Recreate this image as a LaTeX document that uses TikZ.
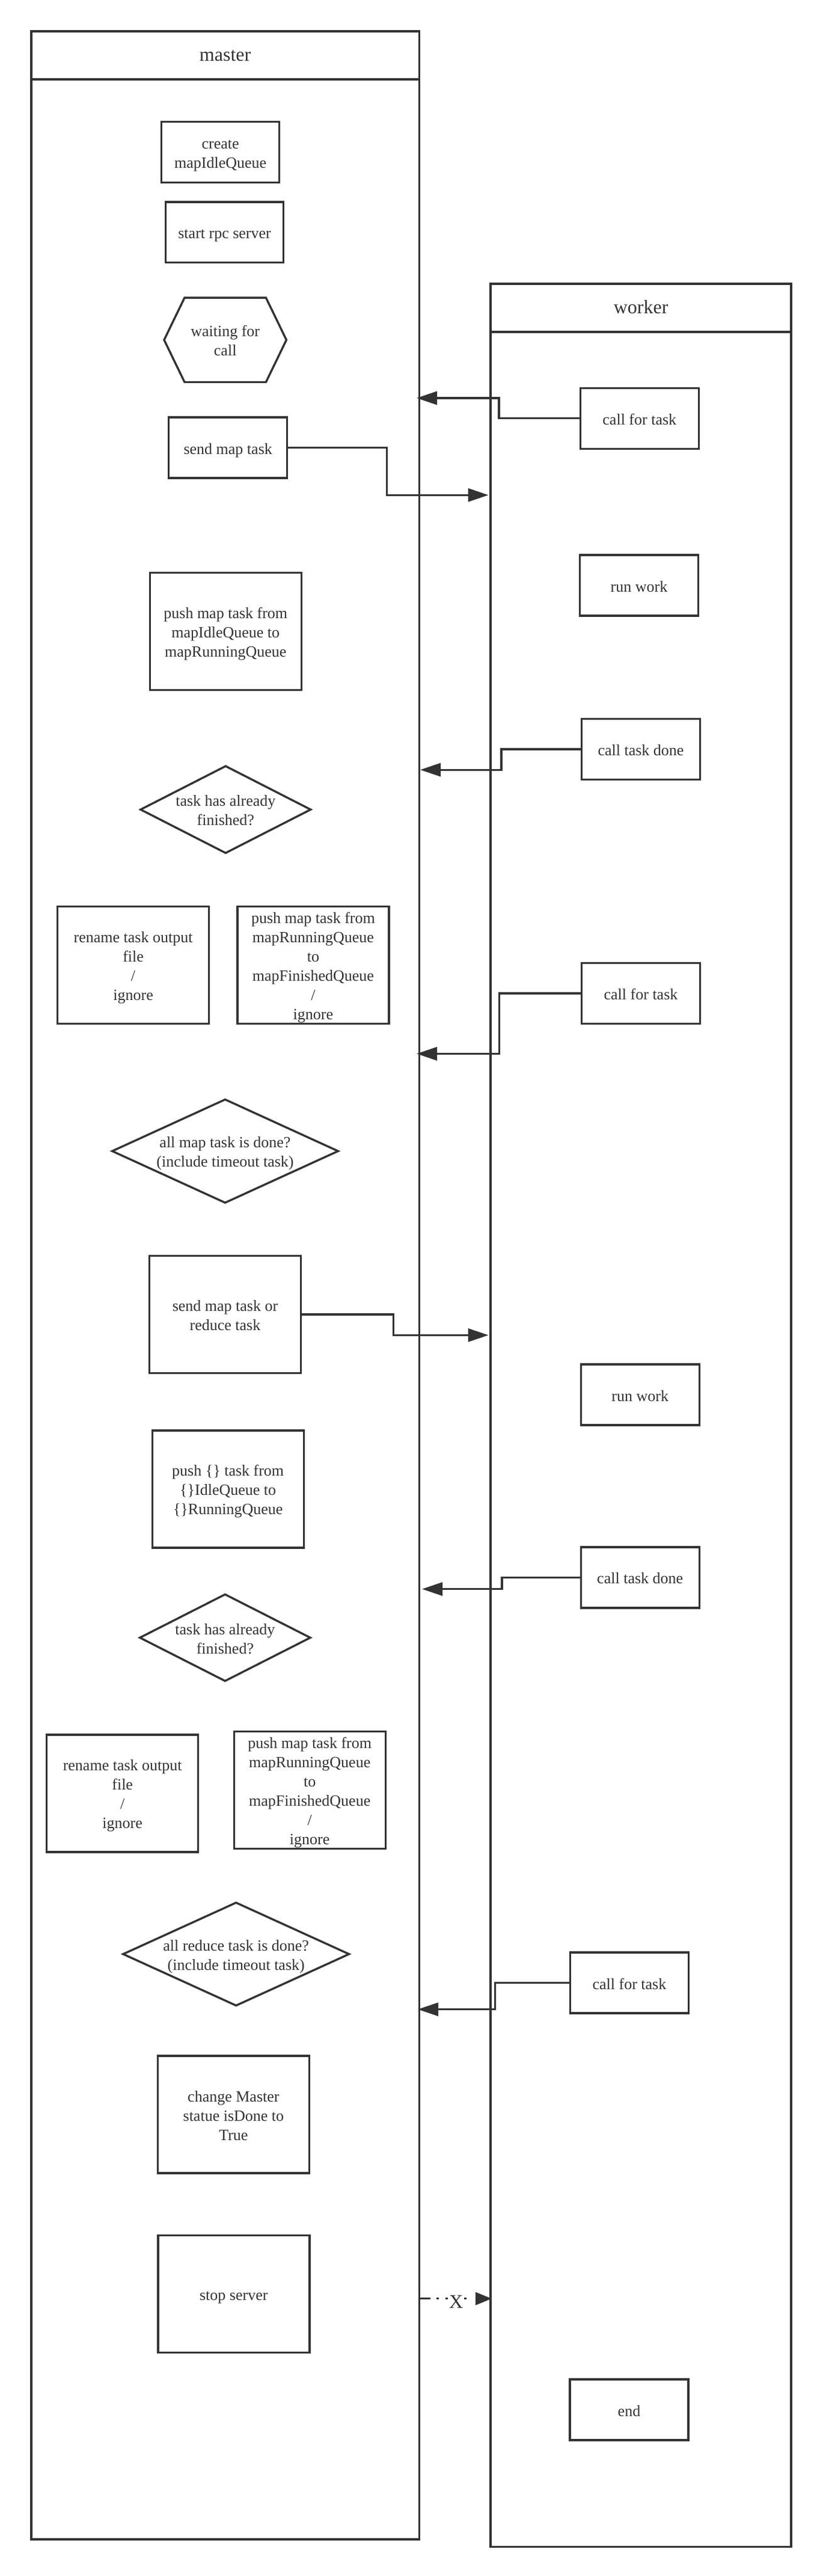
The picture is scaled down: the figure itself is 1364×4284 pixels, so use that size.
\documentclass[tikz,border=0pt]{standalone}
\usepackage{fontspec}
\setmainfont{Liberation Serif}
\usetikzlibrary{arrows.meta}
\definecolor{ink}{HTML}{333333}
\newcommand\mytop{\rule{0pt}{27pt}}
\newcommand\mybot{\rule[-6pt]{0pt}{6pt}}
\newcommand\tx[1]{\mytop#1\mybot}
\begin{document}
\begin{tikzpicture}[x=1pt,y=-1pt,
  every node/.style={text=ink},
  lane/.style={draw=ink, line width=3.7pt, anchor=north west, inner sep=0pt, font=\fontsize{32}{38}\selectfont},
  box/.style={draw=ink, line width=3.4pt, inner sep=0pt, align=center, font=\fontsize{26}{32}\selectfont},
  sbox/.style={box, minimum width=197pt, minimum height=101pt},
  bbox/.style={box, minimum width=252pt, minimum height=195pt},
  shapetext/.style={inner sep=0pt, align=center, font=\fontsize{26}{32}\selectfont},
  outline/.style={draw=ink, line width=3.4pt},
  flow/.style={draw=ink, line width=3.3pt, -{Triangle[length=34pt,width=22pt]}},
  killflow/.style={draw=ink, line width=3.3pt, dash pattern=on 20pt off 10pt on 4pt off 11pt on 4pt off 27pt on 4pt off 60pt, -{Triangle[length=27pt,width=21pt]}}
]
\useasboundingbox (0,0) rectangle (1364,4284);

% lanes
\node[lane, minimum width=645.5pt, minimum height=80pt] (mhead) at (50,50) {\rule[-5pt]{0pt}{30pt}master};
\node[lane, minimum width=645.5pt, minimum height=4091pt] (mlane) at (50,130) {};
\node[lane, minimum width=500pt, minimum height=80pt] (whead) at (814.3,470) {\rule[-5pt]{0pt}{30pt}worker};
\node[lane, minimum width=500pt, minimum height=3683.7pt] (wlane) at (814.3,550) {};

% master steps
\node[sbox, minimum width=196pt, minimum height=100.5pt] (create) at (366.7,253) {\tx{create\\mapIdleQueue}};
\node[sbox, minimum width=196pt, minimum height=100.5pt] (rpc) at (373.6,386.3) {\tx{start rpc server}};
\node[shapetext, minimum width=203pt, minimum height=140pt] (wait) at (374.7,565.3) {\tx{waiting for\\call}};
\draw[outline] ([xshift=34pt]wait.north west) -- ([xshift=-34pt]wait.north east) -- (wait.east)
  -- ([xshift=-34pt]wait.south east) -- ([xshift=34pt]wait.south west) -- (wait.west) -- cycle;
\node[sbox] (send) at (379.2,744.5) {\tx{send map task}};
\node[bbox] (push1) at (375.3,1050.2) {\tx{push map task from\\mapIdleQueue to\\mapRunningQueue}};
\node[shapetext, minimum width=282.4pt, minimum height=144pt] (fin1) at (375.3,1346.3) {\tx{task has already\\finished?}};
\draw[outline] (fin1.north) -- (fin1.east) -- (fin1.south) -- (fin1.west) -- cycle;
\node[bbox] (ren1) at (221.6,1605) {\tx{rename task output\\file\\/\\ignore}};
\node[bbox] (pf1) at (520.9,1605) {\tx{push map task from\\mapRunningQueue\\to\\mapFinishedQueue\\/\\ignore}};
\node[shapetext, minimum width=375.3pt, minimum height=171.2pt] (allmap) at (374.5,1914.3) {\tx{all map task is done?\\(include timeout task)}};
\draw[outline] (allmap.north) -- (allmap.east) -- (allmap.south) -- (allmap.west) -- cycle;
\node[bbox] (sendmr) at (374.5,2186) {\tx{send map task or\\reduce task}};
\node[bbox] (push2) at (379.2,2476.4) {\tx{push \{\} task from\\\{\}IdleQueue to\\\{\}RunningQueue}};
\node[shapetext, minimum width=283pt, minimum height=143.5pt] (fin2) at (374.4,2723.5) {\tx{task has already\\finished?}};
\draw[outline] (fin2.north) -- (fin2.east) -- (fin2.south) -- (fin2.west) -- cycle;
\node[bbox] (ren2) at (203.7,2982.4) {\tx{rename task output\\file\\/\\ignore}};
\node[bbox] (pf2) at (515.2,2976.9) {\tx{push map task from\\mapRunningQueue\\to\\mapFinishedQueue\\/\\ignore}};
\node[shapetext, minimum width=375.4pt, minimum height=170.6pt] (allred) at (392.7,3249.7) {\tx{all reduce task is done?\\(include timeout task)}};
\draw[outline] (allred.north) -- (allred.east) -- (allred.south) -- (allred.west) -- cycle;
\node[bbox] (done) at (388.4,3516.5) {\tx{change Master\\statue isDone to\\True}};
\node[bbox] (stop) at (388.8,3814.8) {\tx{stop server}};

% worker steps
\node[sbox] (w1) at (1063.8,695.7) {\tx{call for task}};
\node[sbox] (w2) at (1063,973.5) {\tx{run work}};
\node[sbox] (w3) at (1066,1246) {\tx{call task done}};
\node[sbox] (w4) at (1066,1652) {\tx{call for task}};
\node[sbox] (w5) at (1064.7,2319.5) {\tx{run work}};
\node[sbox] (w6) at (1064.7,2623.4) {\tx{call task done}};
\node[sbox] (w7) at (1046.9,3297.6) {\tx{call for task}};
\node[sbox] (w8) at (1046.5,4007.5) {\tx{end}};

% connector end points on the lane borders
\coordinate (t1) at (693,662);
\coordinate (t2) at (812.5,823.3);
\coordinate (t3) at (699,1280.2);
\coordinate (t4) at (693,1752.4);
\coordinate (t5) at (812.5,2220.4);
\coordinate (t6) at (702,2642.6);
\coordinate (t7) at (695,3341.6);
\coordinate (xs) at (695.5,3822.7);
\coordinate (xe) at (818,3822.7);

\draw[flow] (w1.west) -- (w1.west -| 830,0) |- (t1);
\draw[flow] (send.east) -- (send.east -| 643.3,0) |- (t2);
\draw[flow] (w3.west) -- (w3.west -| 834,0) |- (t3);
\draw[flow] (w4.west) -- (w4.west -| 830.6,0) |- (t4);
\draw[flow] (sendmr.east) -- (sendmr.east -| 654.2,0) |- (t5);
\draw[flow] (w6.west) -- (w6.west -| 835,0) |- (t6);
\draw[flow] (w7.west) -- (w7.west -| 823.6,0) |- (t7);
\draw[killflow] (xs) -- (xe);
\node[inner sep=0pt, anchor=base, font=\fontsize{32}{38}\selectfont] (xlab) at (758.7,3838) {X};
\end{tikzpicture}
\end{document}
